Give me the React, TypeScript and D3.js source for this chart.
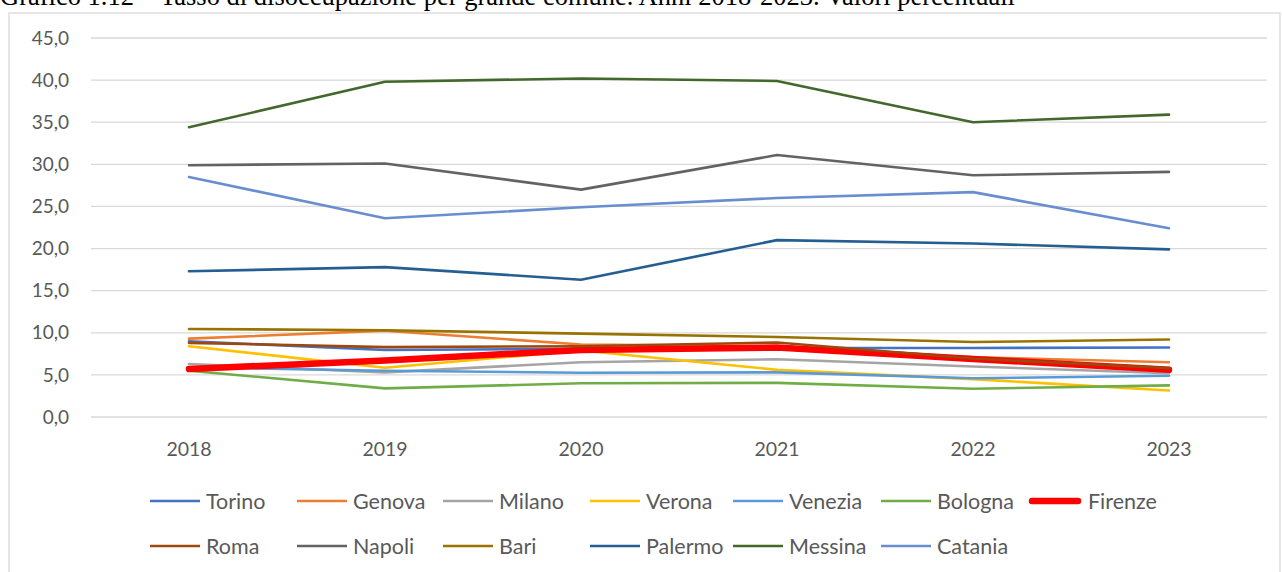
import React from "react";
import * as d3 from "d3";

const years = ["2018", "2019", "2020", "2021", "2022", "2023"];
const yTicks = [0, 5, 10, 15, 20, 25, 30, 35, 40, 45];

const torino = [9.0, 7.95, 8.1, 8.2, 8.2, 8.25];
const genova = [9.3, 10.25, 8.6, 8.4, 7.1, 6.5];
const milano = [6.3, 5.3, 6.5, 6.85, 6.0, 5.2];
const verona = [8.4, 5.85, 7.9, 5.6, 4.5, 3.15];
const venezia = [5.9, 5.5, 5.25, 5.3, 4.6, 4.9];
const bologna = [5.5, 3.4, 4.0, 4.05, 3.35, 3.75];
const firenze = [5.7, 6.7, 7.95, 8.25, 6.9, 5.6];
const roma = [8.8, 8.3, 8.4, 8.85, 6.95, 5.8];
const napoli = [29.9, 30.1, 27.0, 31.1, 28.7, 29.1];
const bari = [10.45, 10.3, 9.9, 9.5, 8.9, 9.2];
const palermo = [17.3, 17.8, 16.3, 21.0, 20.6, 19.9];
const messina = [34.4, 39.8, 40.2, 39.9, 35.0, 35.9];
const catania = [28.5, 23.6, 24.9, 26.0, 26.7, 22.4];

const seriesNames = ["Torino", "Genova", "Milano", "Verona", "Venezia", "Bologna", "Firenze", "Roma", "Napoli", "Bari", "Palermo", "Messina", "Catania"];
const seriesValues = [torino, genova, milano, verona, venezia, bologna, firenze, roma, napoli, bari, palermo, messina, catania];
const seriesColors = ["#4472C4", "#ED7D31", "#A5A5A5", "#FFC000", "#5B9BD5", "#70AD47", "#FF0000", "#9E480E", "#636363", "#997300", "#255E91", "#43682B", "#698ED0"];

const title = "Grafico 1.12 – Tasso di disoccupazione per grande comune. Anni 2018-2023. Valori percentuali";

export default function App() {
  const W = 1282, H = 572;
  const x = d3.scaleBand<string>().domain(years).range([91, 1267]);
  const y = d3.scaleLinear().domain([0, 45]).range([417, 38]);
  const cx = (yr: string) => (x(yr) as number) + x.bandwidth() / 2;
  const line = d3.line<number>().x((_, i) => cx(years[i])).y((v) => y(v));
  const font = "Lato, 'Open Sans', sans-serif";

  const legendCols = [150, 297, 443, 590, 733, 881, 1032];
  const legendRows = [501, 546];

  return (
    <svg width={W} height={H} style={{ position: "absolute", left: 0, top: 0, background: "#fff" }}>
      <rect x={0} y={0} width={W} height={H} fill="#fff" />
      <text x={0} y={5} fontFamily="'Liberation Serif', 'Times New Roman', serif" fontSize={26.5} fill="#000">{title}</text>
      <rect x={9} y={13} width={1271} height={580} fill="none" stroke="#D9D9D9" strokeWidth={1.3} />
      {yTicks.map((t) => (
        <g key={t}>
          <line x1={91} x2={1267} y1={y(t)} y2={y(t)} stroke="#D9D9D9" strokeWidth={1.3} />
          <text x={69} y={y(t)} dy="0.35em" textAnchor="end" fontFamily={font} fontSize={19} fill="#595959">
            {d3.format(".1f")(t).replace(".", ",")}
          </text>
        </g>
      ))}
      {years.map((yr) => (
        <text key={yr} x={cx(yr)} y={449} dy="0.35em" textAnchor="middle" fontFamily={font} fontSize={19.5} fill="#595959">{yr}</text>
      ))}
      {seriesValues.map((vals, i) => (
        <path key={seriesNames[i]} d={line(vals) as string} fill="none" stroke={seriesColors[i]}
          strokeWidth={seriesNames[i] === "Firenze" ? 6.5 : 2.6} strokeLinecap="round" strokeLinejoin="round" />
      ))}
      {seriesNames.map((name, i) => {
        const row = i < 7 ? 0 : 1;
        const col = i < 7 ? i : i - 7;
        const lx = legendCols[col];
        const ly = legendRows[row];
        const thick = name === "Firenze";
        return (
          <g key={name}>
            <line x1={lx} x2={lx + (thick ? 46 : 50)} y1={ly} y2={ly} stroke={seriesColors[i]} strokeWidth={thick ? 6.5 : 2.6} strokeLinecap={thick ? "round" : "butt"} />
            <text x={lx + 56} y={ly} dy="0.35em" fontFamily={font} fontSize={21.5} fill="#595959">{name}</text>
          </g>
        );
      })}
    </svg>
  );
}
